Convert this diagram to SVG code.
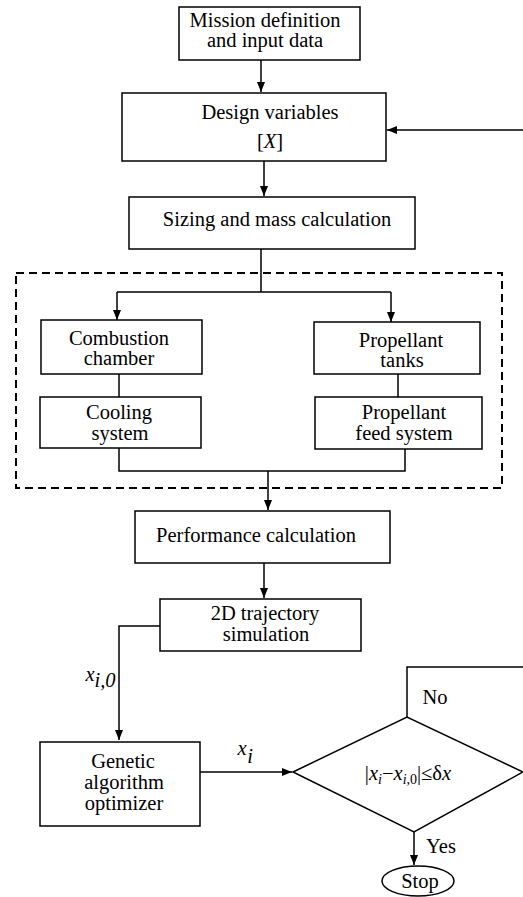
<svg xmlns="http://www.w3.org/2000/svg" width="523" height="897" viewBox="0 0 523 897">
<style>
.b{fill:#fff;stroke:#000;stroke-width:1.5}
.c{fill:none;stroke:#000;stroke-width:1.5}
.t{font-family:"Liberation Serif","Times New Roman",serif;font-size:20.5px;fill:#000;text-anchor:middle}
.i{font-style:italic}
</style>
<defs>
<marker id="a" markerWidth="10" markerHeight="8" refX="10" refY="4" orient="auto" markerUnits="userSpaceOnUse">
<path d="M0,0 L10,4 L0,8 Z" fill="#000"/>
</marker>
</defs>
<rect width="523" height="897" fill="#fff"/>
<g id="connectors">
<path class="c" d="M261,60 V92" marker-end="url(#a)"/>
<path class="c" d="M523,130 H387" marker-end="url(#a)"/>
<path class="c" d="M264,161 V196" marker-end="url(#a)"/>
<path class="c" d="M261,249 V292 M117,292 H391"/>
<path class="c" d="M117,292 V320" marker-end="url(#a)"/>
<path class="c" d="M391,292 V322" marker-end="url(#a)"/>
<path class="c" d="M119,374 V397 M398,374 V397"/>
<path class="c" d="M119,448 V471 H405 V449"/>
<path class="c" d="M268,471 V510" marker-end="url(#a)"/>
<path class="c" d="M264,563 V598" marker-end="url(#a)"/>
<path class="c" d="M160,626 H119 V740" marker-end="url(#a)"/>
<path class="c" d="M200,772 H292" marker-end="url(#a)"/>
<path class="c" d="M407,717 V667 H523"/>
<path class="c" d="M414,832 V865" marker-end="url(#a)"/>
</g>
<g id="group-box"><rect x="16" y="273" width="486" height="215" fill="none" stroke="#000" stroke-width="2" stroke-dasharray="8,5"/></g>
<g id="mission"><rect class="b" x="179" y="7" width="181" height="53"/><text class="t" x="265" y="27">Mission definition</text><text class="t" x="265" y="47">and input data</text></g>
<g id="design"><rect class="b" x="122" y="93" width="264" height="68"/><text class="t" x="270" y="119">Design variables</text><text class="t" x="270" y="148">[<tspan class="i">X</tspan>]</text></g>
<g id="sizing"><rect class="b" x="129" y="197" width="286" height="52"/><text class="t" x="277" y="226">Sizing and mass calculation</text></g>
<g id="combustion"><rect class="b" x="41" y="320" width="161" height="54"/><text class="t" x="119" y="345">Combustion</text><text class="t" x="119" y="365">chamber</text></g>
<g id="tanks"><rect class="b" x="314" y="322" width="166" height="52"/><text class="t" x="401" y="347">Propellant</text><text class="t" x="402" y="367">tanks</text></g>
<g id="cooling"><rect class="b" x="40" y="397" width="161" height="51"/><text class="t" x="119" y="419">Cooling</text><text class="t" x="120" y="440">system</text></g>
<g id="feed"><rect class="b" x="315" y="397" width="167" height="52"/><text class="t" x="404" y="419">Propellant</text><text class="t" x="404" y="440">feed system</text></g>
<g id="performance"><rect class="b" x="135" y="511" width="255" height="52"/><text class="t" x="256" y="542">Performance calculation</text></g>
<g id="trajectory"><rect class="b" x="160" y="599" width="201" height="52"/><text class="t" x="265" y="620">2D trajectory</text><text class="t" x="266" y="641">simulation</text></g>
<g id="label-xi0"><text class="t i" x="90" y="681" font-size="22">x</text><text class="t i" x="105" y="687" font-size="14">i,0</text></g>
<g id="genetic"><rect class="b" x="40" y="742" width="160" height="84"/><text class="t" x="123" y="768">Genetic</text><text class="t" x="124" y="789">algorithm</text><text class="t" x="124" y="810">optimizer</text></g>
<g id="label-xi"><text class="t i" x="242" y="755" font-size="22">x</text><text class="t i" x="250" y="763" font-size="14">i</text></g>
<g id="decision"><path class="b" d="M293,772 L407,717 L523,772 L414,832 Z"/><text class="t" x="408" y="780" font-size="22">|<tspan class="i">x</tspan><tspan class="i" font-size="14" dy="4">i</tspan><tspan dy="-4">−</tspan><tspan class="i">x</tspan><tspan class="i" font-size="14" dy="4">i,</tspan><tspan font-size="14">0</tspan><tspan dy="-4">|≤δ</tspan><tspan class="i">x</tspan></text></g>
<g id="label-no"><text class="t" x="435" y="704">No</text></g>
<g id="label-yes"><text class="t" x="441" y="853">Yes</text></g>
<g id="stop"><ellipse class="b" cx="418" cy="881" rx="36" ry="15"/><text class="t" x="420" y="888">Stop</text></g>
</svg>
